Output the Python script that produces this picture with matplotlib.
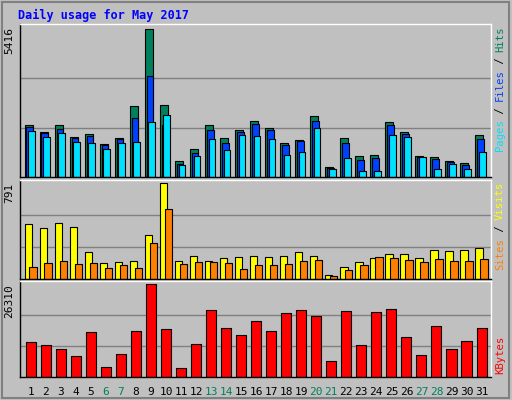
import numpy as np
import matplotlib
matplotlib.use("Agg")
import matplotlib.pyplot as plt
from matplotlib.patches import Rectangle
from matplotlib.transforms import ScaledTranslation

days = list(range(1, 32))
weekend = [6, 7, 13, 14, 20, 21, 27, 28]

hits = [1887, 1666, 1923, 1482, 1593, 1225, 1446, 2585, 5416, 2622, 600, 1041, 1923, 1446, 1740, 2034,
        1813, 1262, 1372, 2217, 380, 1446, 784, 821, 1997, 1666, 784, 747, 600, 527, 1556]
files = [1850, 1629, 1776, 1446, 1519, 1188, 1409, 2144, 3687, 1887, 490, 894, 1740, 1262, 1666, 1960,
         1740, 1188, 1335, 2070, 343, 1262, 637, 711, 1887, 1593, 747, 674, 564, 453, 1409]
pages = [1703, 1482, 1629, 1299, 1262, 1041, 1262, 1299, 1997, 2254, 453, 784, 1409, 1005, 1556, 1519,
         1409, 821, 931, 1813, 306, 711, 233, 233, 1556, 1482, 747, 306, 490, 306, 931]
sites = [456, 421, 464, 430, 224, 129, 138, 146, 361, 791, 146, 189, 146, 172, 181, 189,
         181, 189, 224, 189, 34, 103, 138, 172, 206, 206, 172, 241, 232, 241, 258]
visits = [103, 129, 146, 120, 129, 95, 112, 95, 301, 576, 120, 138, 138, 129, 86, 112,
          112, 120, 146, 155, 26, 77, 112, 181, 172, 155, 138, 163, 146, 146, 163]
kbytes = [9890, 9025, 7873, 5857, 12770, 2977, 6433, 13058, 26310, 13634, 2688, 9314, 19108, 13923,
          11906, 15939, 13058, 18244, 19108, 17380, 4417, 18820, 9025, 18532, 19396, 11330, 6145,
          14499, 7873, 10178, 13923]

GREY = "#c0c0c0"
C_HITS, C_FILES, C_PAGES = "#00805c", "#0040ff", "#00e0ff"
C_SITES, C_VISITS, C_KB = "#ffff00", "#ff8000", "#ff0000"
MONO = "DejaVu Sans Mono"

W, H = 512, 400
fig = plt.figure(figsize=(W / 100, H / 100), dpi=100, facecolor=GREY)

fig.patches.append(Rectangle((0.004, 0.004), 0.99, 0.99, transform=fig.transFigure,
                             fill=False, ec="#808080", lw=1.5))
fig.text(18 / W, 1 - 15 / H, "Daily usage for May 2017", color="#0000ff", fontsize=8.5,
         fontweight="bold", family=MONO, va="center")


def panel(y0, y1):
    ax = fig.add_axes([20 / W, 1 - y1 / H, (491 - 20) / W, (y1 - y0) / H])
    ax.set_facecolor(GREY)
    ax.set_xlim(0.7, 32.05)
    ax.set_xticks([]); ax.set_yticks([])
    for s in ax.spines.values():
        s.set_color("black"); s.set_linewidth(1)
    ax.spines["top"].set_color("white"); ax.spines["right"].set_color("white")
    return ax


def grid_and_max(ax, vmax, top_off):
    ax.set_ylim(0, vmax * 1.035)
    for f in (1 / 3, 2 / 3):
        ax.axhline(vmax * f, color="#808080", lw=1, zorder=0)
    ax.text(-0.012, 1 - top_off, f"{vmax}", transform=ax.transAxes, rotation=90, ha="right",
            va="top", family=MONO, fontsize=8)


x = np.array(days)

ax1 = panel(24, 177)
grid_and_max(ax1, max(hits), 0.02)
ax1.bar(x, hits, width=0.55, align="edge", color=C_HITS, ec="black", lw=0.8)
ax1.bar(x + 0.13, files, width=0.45, align="edge", color=C_FILES, ec="black", lw=0.8)
ax1.bar(x + 0.25, pages, width=0.45, align="edge", color=C_PAGES, ec="black", lw=0.8)

ax2 = panel(180, 279)
grid_and_max(ax2, max(sites), 0.03)
ax2.bar(x, sites, width=0.5, align="edge", color=C_SITES, ec="black", lw=0.8)
ax2.bar(x + 0.33, visits, width=0.5, align="edge", color=C_VISITS, ec="black", lw=0.8)

ax3 = panel(281, 377)
grid_and_max(ax3, max(kbytes), 0.03)
ax3.bar(x + 0.42, kbytes, width=0.67, color=C_KB, ec="black", lw=0.8)
for d in days:
    ax3.text(d + 0.42, -0.1, str(d), transform=ax3.get_xaxis_transform(), ha="center", va="top",
             family=MONO, fontsize=8, color=C_HITS if d in weekend else "black")

CHAR_PX = 6.2


def side_label(ax, parts, top_px_from_axtop):
    # parts listed bottom-to-top reading order; placed from the top downward
    off = top_px_from_axtop
    for txt, col in reversed(parts):
        tr = ax.transAxes + ScaledTranslation(0, -off / 100, fig.dpi_scale_trans)
        ax.text(1.008, 1.0, txt, transform=tr, rotation=90, ha="left", va="top",
                family=MONO, fontsize=7.6, color=col)
        off += len(txt) * CHAR_PX


side_label(ax1, [("Pages", C_PAGES), (" / ", "black"), ("Files", C_FILES), (" / ", "black"),
                 ("Hits", C_HITS)], 2)
side_label(ax2, [("Sites", C_VISITS), (" / ", "black"), ("Visits", C_SITES)], 2)
side_label(ax3, [("KBytes", C_KB)], 55)

fig.savefig("out.png", dpi=100, facecolor=GREY)
